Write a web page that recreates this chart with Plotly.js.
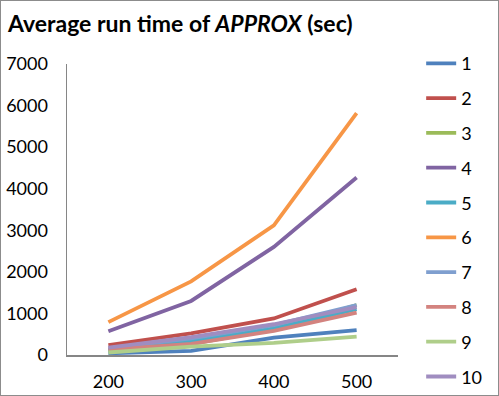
<!DOCTYPE html>
<html>
<head>
<meta charset="utf-8">
<script src="https://cdn.plot.ly/plotly-3.0.1.min.js"></script>
<style>
html,body{margin:0;padding:0;background:#fff;}
#wrap{position:relative;width:499px;height:396px;}
#chart{width:499px;height:396px;}
#frame{position:absolute;left:0;top:0;width:497px;height:394px;border:1px solid #8c8c8c;pointer-events:none;}
</style>
</head>
<body>
<div id="wrap"><div id="chart"></div><div id="frame"></div></div>
<script>
const categories = ['200', '300', '400', '500'];
const seriesNames = ['1', '2', '3', '4', '5', '6', '7', '8', '9', '10'];
const s1 = [40, 100, 420, 600];
const s2 = [240, 520, 880, 1580];
const s3 = [120, 260, 620, 1200];
const s4 = [570, 1300, 2600, 4270];
const s5 = [110, 330, 640, 1100];
const s6 = [790, 1770, 3120, 5820];
const s7 = [160, 400, 720, 1200];
const s8 = [130, 270, 580, 1020];
const s9 = [60, 200, 290, 440];
const s10 = [180, 430, 740, 1150];
const seriesValues = [s1, s2, s3, s4, s5, s6, s7, s8, s9, s10];
const colors = ['#4F81BD', '#C0504D', '#9BBB59', '#8064A2', '#4BACC6', '#F79646',
                '#7F9FCF', '#D3837F', '#AFCE8A', '#A08DC0'];

const traces = seriesValues.map((v, i) => ({
  type: 'scatter',
  mode: 'lines',
  x: categories,
  y: v,
  name: seriesNames[i],
  legendgroup: 'g' + i,
  line: {color: colors[i], width: 3.8},
  hoverinfo: 'skip'
}));

const font = 'Lato, "Open Sans", sans-serif';
const layout = {
  width: 499,
  height: 396,
  margin: {l: 67, r: 94, t: 64, b: 41},
  paper_bgcolor: '#ffffff',
  plot_bgcolor: '#ffffff',
  font: {family: font, size: 18, color: '#000'},
  title: {
    text: '<b>Average run time of <i>APPROX</i> (sec)</b>',
    font: {family: font, size: 23, color: '#000'},
    x: 0.016, xanchor: 'left', xref: 'container',
    y: 0.94, yanchor: 'middle', yref: 'container'
  },
  xaxis: {
    type: 'category',
    range: [-0.5, 3.5],
    showgrid: false,
    zeroline: false,
    showline: true,
    linecolor: '#868686',
    linewidth: 1.5,
    ticks: 'outside',
    ticklen: 10,
    tickcolor: 'rgba(0,0,0,0)',
    tickfont: {family: font, size: 18, color: '#000'}
  },
  yaxis: {
    range: [0, 7000],
    dtick: 1000,
    showgrid: false,
    zeroline: false,
    showline: true,
    linecolor: '#868686',
    linewidth: 1.5,
    ticks: 'outside',
    ticklen: 14,
    tickcolor: 'rgba(0,0,0,0)',
    tickfont: {family: font, size: 18, color: '#000'}
  },
  legend: {
    x: 1.07, xanchor: 'left',
    y: 1.065, yanchor: 'top',
    traceorder: 'grouped',
    tracegroupgap: 8.4,
    maxheight: 420,
    font: {family: font, size: 18, color: '#000'},
    bgcolor: 'rgba(0,0,0,0)'
  },
  showlegend: true
};

Plotly.newPlot('chart', traces, layout, {staticPlot: true, displayModeBar: false});
</script>
</body>
</html>
